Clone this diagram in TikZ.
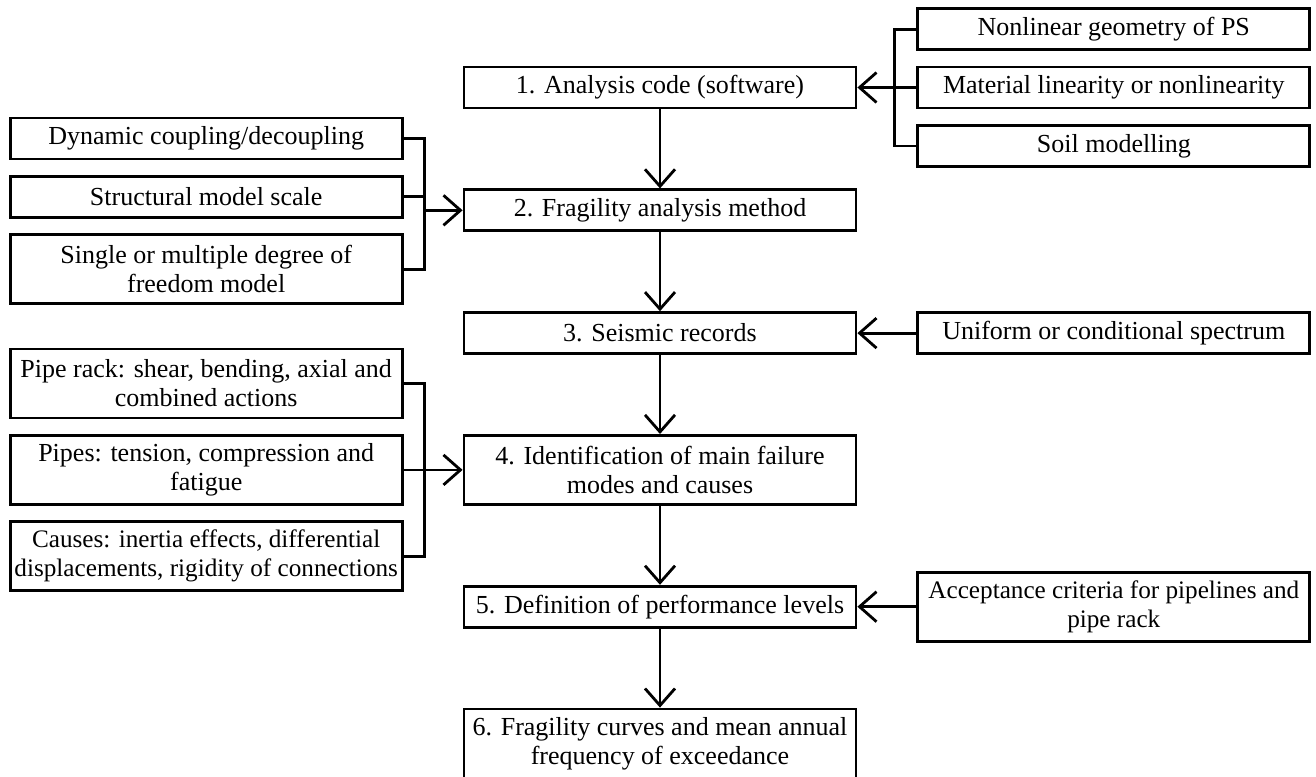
\documentclass[tikz,border=0pt]{standalone}
\usepackage{fontspec}
\setmainfont{Liberation Serif}
\usetikzlibrary{
arrows.meta,
positioning
}

\begin{document}
\begin{tikzpicture}[
    line width=1.4pt,
    >={Straight Barb[length=8.5pt,width=15pt]},
    box/.style={draw,
      fill=white,
      font=\fontsize{13}{14.5}\selectfont,
      align=center,
      inner xsep=1pt,
      inner ysep=2pt,
      minimum width=196pt,
      minimum height=20.5pt},
    tall/.style={minimum height=34.5pt},
    tight/.style={font=\fontsize{12.6}{14.5}\selectfont}
  ]
  \useasboundingbox (-330pt,43.75pt) rectangle (328pt,-344.25pt);

  % main steps
  \node[box] (S1) at (0,0) {1. Analysis code (software)};
  \node[box, below=39.5pt of S1] (S2) {2. Fragility analysis method};
  \node[box, below=39.5pt of S2] (S3) {3. Seismic records};
  \node[box, tall, below=39.5pt of S3] (S4) {4. Identification of main failure\\modes and causes};
  \node[box, below=39.5pt of S4] (S5) {5. Definition of performance levels};
  \node[box, tall, below=39.5pt of S5] (S6) {6. Fragility curves and mean annual\\frequency of exceedance};

  % analysis code
  \node[box, right=29.5pt of S1] (R2) {Material linearity or nonlinearity};
  \node[box, above=7.3pt of R2] (R1) {Nonlinear geometry of PS};
  \node[box, below=7.3pt of R2] (R3) {Soil modelling};

  % method
  \node[box, left=29.5pt of S2, yshift=6.75pt] (L2) {Structural model scale};
  \node[box, above=7.3pt of L2] (L1) {Dynamic coupling/decoupling};
  \node[box, tall, below=7.3pt of L2] (L3) {Single or multiple degree of\\freedom model};

  % records
  \node[box, right=29.5pt of S3] (U) {Uniform or conditional spectrum};

  % failure modes
  \node[box, tall, left=29.5pt of S4] (F2) {Pipes: tension, compression and\\fatigue};
  \node[box, tall, above=7.3pt of F2] (F1) {Pipe rack: shear, bending, axial and\\combined actions};
  \node[box, tall, tight, below=7.3pt of F2] (F3) {Causes: inertia effects, differential\\displacements, rigidity of connections};

  % criteria
  \node[box, tall, tight, right=29.5pt of S5] (C) {Acceptance criteria for pipelines and\\pipe rack};

  \draw[->] (S1) to (S2);
  \draw[->] (S2) to (S3);
  \draw[->] (S3) to (S4);
  \draw[->] (S4) to (S5);
  \draw[->] (S5) to (S6);

  \draw (R1.west) -- ++(-11pt,0) coordinate (jR) |- (R3.west);
  \draw[->] (R2.west) -- (S1.east);

  \draw (L1.east) -- ++(10.5pt,0) coordinate (jL) |- (L3.east);
  \draw (L2.east) -- (L2.east -| jL);
  \draw[->] (S2.west -| jL) -- (S2.west);

  \draw (F1.east) -- ++(10.5pt,0) coordinate (jF) |- (F3.east);
  \draw[->] (F2.east) -- (S4.west);

  \draw[->] (U) to (S3);
  \draw[->] (C) to (S5);
\end{tikzpicture}
\end{document}
